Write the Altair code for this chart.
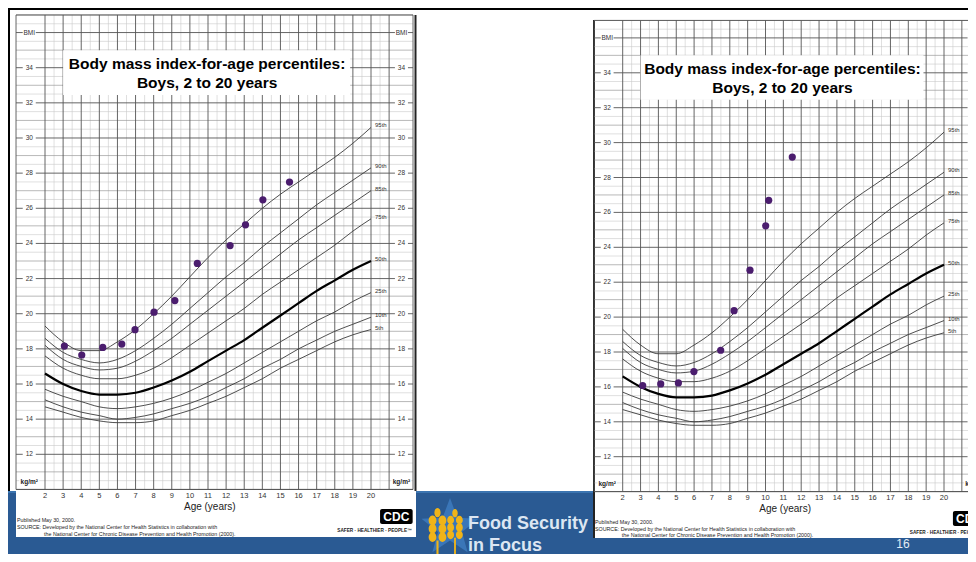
import math
import numpy as np
import pandas as pd
import altair as alt

# ---------------- data ----------------
AGES = list(range(2, 21))
P5  = [14.7, 14.4, 14.1, 13.9, 13.8, 13.8, 13.9, 14.2, 14.5, 14.9, 15.3, 15.8, 16.3, 16.9, 17.4, 17.9, 18.4, 18.8, 19.1]
P10 = [15.1, 14.7, 14.4, 14.2, 14.0, 14.1, 14.3, 14.6, 14.9, 15.3, 15.8, 16.3, 16.9, 17.4, 18.0, 18.5, 19.0, 19.4, 19.8]
P25 = [15.7, 15.3, 15.0, 14.7, 14.6, 14.7, 14.9, 15.2, 15.6, 16.1, 16.6, 17.2, 17.8, 18.4, 19.0, 19.6, 20.1, 20.7, 21.2]
P50 = [16.6, 16.0, 15.6, 15.4, 15.4, 15.5, 15.8, 16.2, 16.7, 17.3, 17.9, 18.5, 19.2, 19.9, 20.6, 21.3, 21.9, 22.5, 23.0]
P75 = [17.6, 16.9, 16.5, 16.3, 16.3, 16.5, 16.9, 17.5, 18.2, 18.9, 19.6, 20.3, 21.1, 21.8, 22.5, 23.2, 23.9, 24.7, 25.4]
P85 = [18.2, 17.4, 17.0, 16.8, 16.9, 17.3, 17.9, 18.6, 19.4, 20.2, 21.0, 21.8, 22.6, 23.4, 24.2, 24.9, 25.6, 26.3, 27.0]
P90 = [18.6, 17.8, 17.4, 17.2, 17.4, 17.9, 18.6, 19.4, 20.3, 21.2, 22.1, 22.9, 23.8, 24.6, 25.4, 26.2, 26.9, 27.6, 28.3]
P95 = [19.3, 18.4, 17.9, 17.9, 18.4, 19.1, 20.0, 21.0, 22.1, 23.2, 24.2, 25.1, 26.0, 26.8, 27.5, 28.2, 28.9, 29.7, 30.6]
PCT_NAMES = ["5th", "10th", "25th", "50th", "75th", "85th", "90th", "95th"]
PCT_VALUES = [P5, P10, P25, P50, P75, P85, P90, P95]

LEFT_AGE = [3.07, 4.03, 5.19, 6.24, 6.97, 8.02, 9.17, 10.41, 12.22, 13.07, 14.03, 15.50]
LEFT_BMI = [18.16, 17.65, 18.08, 18.27, 19.09, 20.09, 20.75, 22.86, 23.88, 25.06, 26.48, 27.49]
RIGHT_AGE = [3.12, 4.13, 5.12, 5.99, 7.49, 8.24, 9.13, 10.01, 10.18, 11.50]
RIGHT_BMI = [16.08, 16.17, 16.23, 16.88, 18.10, 20.37, 22.69, 25.23, 26.69, 29.17]

BMI_TICKS = [34, 32, 30, 28, 26, 24, 22, 20, 18, 16, 14, 12]
AGE_TICKS = list(range(2, 21))

TITLE_1 = "Body mass index-for-age percentiles:"
TITLE_2 = "Boys, 2 to 20 years"
X_TITLE = "Age (years)"
FOOT_1 = "Published May 30, 2000."
FOOT_2 = "SOURCE: Developed by the National Center for Health Statistics in collaboration with"
FOOT_3 = "the National Center for Chronic Disease Prevention and Health Promotion (2000)."
UNIT = "kg/m²"
SAFER = "SAFER · HEALTHIER · PEOPLE™"
PAGE_NO = "16"

curves = pd.DataFrame(
    [{"age": a, "bmi": v, "pct": n} for n, vals in zip(PCT_NAMES, PCT_VALUES) for a, v in zip(AGES, vals)]
)
grid_h = pd.DataFrame({"v": np.arange(10, 37.001, 0.5)})
grid_v = pd.DataFrame({"a": np.arange(2, 21.001, 0.5)})
labels = pd.DataFrame({"t": ["BMI"] + [str(t) for t in BMI_TICKS], "v": [36] + BMI_TICKS})

FONT = "Liberation Sans, Arial, Helvetica, sans-serif"
W, H = 960, 546


def one():
    return pd.DataFrame({"k": [0]})


def panel(xr, yr, pts_age, pts_bmi):
    xs = alt.Scale(domain=[2, 20], range=xr, nice=False, zero=False)
    ys = alt.Scale(domain=[12, 34], range=yr, nice=False, zero=False)

    def X(f):
        return alt.X(f, scale=xs, axis=None)

    def Y(f):
        return alt.Y(f, scale=ys, axis=None)

    def txt(text, x, y, **kw):
        return (alt.Chart(pd.DataFrame({"t": [text]}))
                .transform_calculate(px=f"{x}", py=f"{y}")
                .mark_text(font=FONT, **kw)
                .encode(x=X("px:Q"), y=Y("py:Q"), text="t:N"))

    def box(x1, x2, y1, y2, **kw):
        return (alt.Chart(one())
                .transform_calculate(a=f"{x1}", b=f"{x2}", c=f"{y1}", d=f"{y2}")
                .mark_rect(**kw)
                .encode(x=X("a:Q"), x2="b:Q", y=Y("c:Q"), y2="d:Q"))

    XL, XR = 0.4, 22.32
    hbase = alt.Chart(grid_h).transform_calculate(a=f"{XL}", b=f"{XR}")
    vbase = alt.Chart(grid_v).transform_calculate(c="10", d="37")
    h_enc = dict(x=X("a:Q"), x2="b:Q", y=Y("v:Q"))
    v_enc = dict(x=X("a:Q"), y=Y("c:Q"), y2="d:Q")

    layers = [
        hbase.transform_filter("datum.v % 1 != 0").mark_rule(color="#c9c9c9", strokeWidth=0.6).encode(**h_enc),
        vbase.transform_filter("datum.a % 1 != 0").mark_rule(color="#c9c9c9", strokeWidth=0.6).encode(**v_enc),
        hbase.transform_filter("datum.v % 1 == 0 && datum.v % 2 != 0").mark_rule(color="#9a9a9a", strokeWidth=0.7).encode(**h_enc),
        hbase.transform_filter("datum.v % 2 == 0").mark_rule(color="#555555", strokeWidth=0.9).encode(**h_enc),
        vbase.transform_filter("datum.a % 1 == 0").mark_rule(color="#555555", strokeWidth=0.9).encode(**v_enc),
        box(XL, XR, 10, 37, fillOpacity=0, stroke="#555555", strokeWidth=0.9),
    ]
    # y labels in both side columns
    for cx in (1.13, 21.68):
        lb = alt.Chart(labels).transform_calculate(lx=f"{cx}", a=f"{cx - 0.36}", b=f"{cx + 0.36}",
                                                  c="datum.v - 0.17", d="datum.v + 0.17")
        layers.append(lb.mark_rect(color="white").encode(x=X("a:Q"), x2="b:Q", y=Y("c:Q"), y2="d:Q"))
        layers.append(lb.mark_text(font=FONT, fontSize=6.5, color="#333333").encode(x=X("lx:Q"), y=Y("v:Q"), text="t:N"))
        layers.append(box(cx - 0.55, cx + 0.55, 10.22, 10.68, color="white"))
        layers.append(txt(UNIT, cx, 10.44, fontSize=6.5, fontWeight="bold", color="#222222"))
    # title box
    layers.append(box(3.0, 18.85, 32.45, 35.0, color="white"))
    layers.append(txt(TITLE_1, 10.95, 34.2, fontSize=15.5, fontWeight="bold", color="black"))
    layers.append(txt(TITLE_2, 10.95, 33.12, fontSize=15.5, fontWeight="bold", color="black"))
    # percentile curves
    cv = alt.Chart(curves)
    layers.append(cv.transform_filter("datum.pct != '50th'").mark_line(interpolate="monotone", color="#3a3a3a", strokeWidth=0.9)
                  .encode(x=X("age:Q"), y=Y("bmi:Q"), detail="pct:N"))
    layers.append(cv.transform_filter("datum.pct == '50th'").mark_line(interpolate="monotone", color="black", strokeWidth=2.2)
                  .encode(x=X("age:Q"), y=Y("bmi:Q")))
    layers.append(cv.transform_filter("datum.age == 20").mark_text(font=FONT, align="left", dx=4, dy=-2, fontSize=6, color="#333333")
                  .encode(x=X("age:Q"), y=Y("bmi:Q"), text="pct:N"))
    # child's points
    pts = pd.DataFrame({"age": pts_age, "bmi": pts_bmi})
    layers.append(alt.Chart(pts).mark_circle(size=52, color="#4b1d6e", opacity=1)
                  .encode(x=X("age:Q"), y=Y("bmi:Q")))
    # age axis labels
    layers.append(alt.Chart(pd.DataFrame({"age": AGE_TICKS})).transform_calculate(py="9.64")
                  .mark_text(font=FONT, fontSize=7.5, color="#333333")
                  .encode(x=X("age:Q"), y=Y("py:Q"), text=alt.Text("age:Q", format="d")))
    layers.append(txt(X_TITLE, 11.1, 9.0, fontSize=10, color="#222222"))
    # footer
    layers.append(txt(FOOT_1, 0.45, 8.27, fontSize=5.3, align="left", color="#222222"))
    layers.append(txt(FOOT_2, 0.45, 7.87, fontSize=5.3, align="left", color="#222222"))
    layers.append(txt(FOOT_3, 1.95, 7.49, fontSize=5.3, align="left", color="#222222"))
    layers.append(box(20.5, 22.3, 8.03, 8.89, color="black", cornerRadius=2))
    layers.append(txt("CDC", 21.4, 8.45, fontSize=12, fontWeight="bold", color="white"))
    layers.append(txt(SAFER, 22.25, 7.63, fontSize=4.7, fontWeight="bold", align="right", color="#222222"))
    return alt.layer(*layers)


left = panel([37, 363], [446.3, 59.7], LEFT_AGE, LEFT_BMI)
right = panel([614.7, 936], [448.7, 64.8], RIGHT_AGE, RIGHT_BMI)

# ---------------- slide decoration ----------------
star_pts = []
for k in range(10):
    r = 1.0 if k % 2 == 0 else 0.42
    a = -math.pi / 2 + k * math.pi / 5
    star_pts.append(f"{r * math.cos(a):.3f},{r * math.sin(a):.3f}")
STAR = "M" + "L".join(star_pts) + "Z"


def ell(cx, cy, rx, ry):
    return (f"M{cx - rx:.3f},{cy:.3f}A{rx},{ry} 0 1 0 {cx + rx:.3f},{cy:.3f}"
            f"A{rx},{ry} 0 1 0 {cx - rx:.3f},{cy:.3f}Z")


WHEAT = (ell(0, -0.82, 0.12, 0.18)
         + "".join(ell(s * 0.19, y, 0.15, 0.19) for y in (-0.52, -0.2, 0.12) for s in (-1, 1))
         + "M-0.04,0.25L0.04,0.25L0.04,1L-0.04,1Z")


def rect_px(x1, x2, y1, y2, color):
    return alt.Chart(one()).mark_rect(color=color).encode(
        x=alt.value(x1), x2=alt.value(x2), y=alt.value(y1), y2=alt.value(y2))


def sym_px(x, y, shape, size, color):
    return alt.Chart(one()).mark_point(shape=shape, size=size, filled=True, color=color, opacity=1).encode(
        x=alt.value(x), y=alt.value(y))


def text_px(t, x, y, **kw):
    return alt.Chart(one()).mark_text(**kw).encode(x=alt.value(x), y=alt.value(y), text=alt.value(t))


LOGO_FONT = "Liberation Sans, Arial, sans-serif"
deco = [
    rect_px(0, W, 0, 2, "black"),
    rect_px(0, 2, 0, H, "black"),
    rect_px(0, W, 483, H, "#2a5a93"),
    rect_px(0, W, 483, 485, "#3b74b0"),
    sym_px(442, 520, STAR, 3600, "#3a76b8"),
    sym_px(429.5, 526, WHEAT, 2704, "#f0b418"),
    sym_px(447, 524, WHEAT, 2116, "#f0b418"),
    text_px("Food Security", 460, 521, font=LOGO_FONT, fontSize=18, fontWeight="bold",
            align="left", baseline="alphabetic", color="#dce6f2"),
    text_px("in Focus", 460, 543, font=LOGO_FONT, fontSize=18, fontWeight="bold",
            align="left", baseline="alphabetic", color="#dce6f2"),
    rect_px(8, 408, 483, 529, "white"),
    rect_px(585, W, 483, 530, "white"),
    rect_px(406.5, 408.5, 7, 483, "#222222"),
    rect_px(585, 587, 12, 530, "#222222"),
    text_px(PAGE_NO, 895, 535.5, font=FONT, fontSize=12, color="#e6edf5", baseline="middle"),
]

chart = (alt.layer(*deco, left, right)
         .resolve_scale(x="independent", y="independent")
         .properties(width=W, height=H, autosize=alt.AutoSizeParams(type="none"), padding=0)
         .configure_view(stroke=None))

chart.save("out.html", embed_options={"renderer": "svg", "actions": False})
